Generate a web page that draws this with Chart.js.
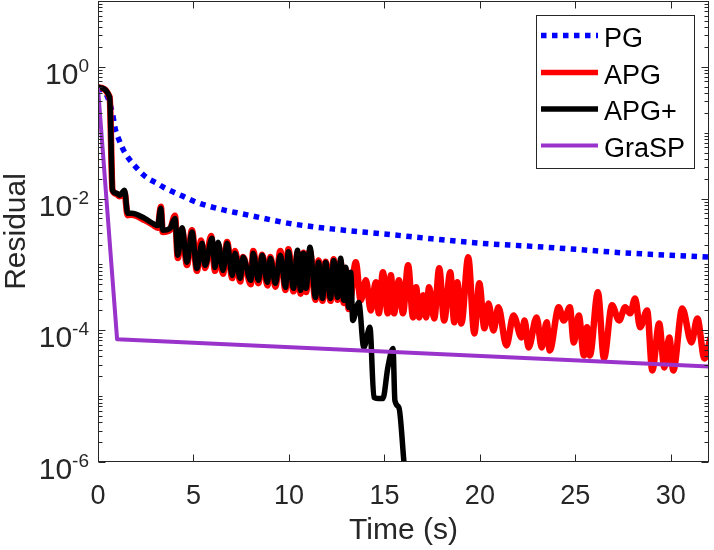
<!DOCTYPE html>
<html><head><meta charset="utf-8">
<script src="https://cdn.jsdelivr.net/npm/chart.js@4/dist/chart.umd.min.js"></script>
<style>html,body{margin:0;padding:0;background:#fff;}</style>
</head><body>
<canvas id="c" width="714" height="550"></canvas>
<script>
// ---- data ----
const seriesNames = ['PG', 'APG', 'APG+', 'GraSP'];

const pgTime = [0, 0.4, 0.75, 0.9, 1.1, 1.4, 1.8, 2.5, 3.1, 3.5, 4.5, 5.2, 6.5, 7.5, 8.7, 10, 12.5, 15, 17.5, 20, 22.5, 25, 27.5, 30, 32];
const pgResidual = [0.47, 0.40, 0.20, 0.115, 0.078, 0.050, 0.0347, 0.0214, 0.0170, 0.0145, 0.0107, 0.0087, 0.0068, 0.0059, 0.0050, 0.0042, 0.0034, 0.0029, 0.00245, 0.0021, 0.0019, 0.0017, 0.0015, 0.00138, 0.00129];

const apgTime = [0, 0.61, 0.76, 0.97, 1.13, 1.39, 1.55, 1.76, 2.45, 2.87, 3.13, 3.29, 3.39, 3.76, 4.03, 4.18, 4.40, 4.66, 4.92, 5.18,
  5.40, 5.61, 5.92, 6.13, 6.29, 6.55, 6.76, 7.03, 7.18, 7.45, 7.6, 8.0, 8.13, 8.4, 8.6, 8.87, 9.03, 9.29, 9.55, 9.82,
  9.97, 10.24, 10.45, 10.61, 10.76, 10.9, 11.1, 11.39, 11.55, 11.76, 11.92, 12.18, 12.34, 12.55, 12.71, 12.87, 12.97, 13.13, 13.24, 13.5,
  13.76, 14.03, 14.29, 14.55, 14.71, 14.92, 15.18, 15.34, 15.5, 15.76, 15.97, 16.24, 16.5, 16.66, 16.82, 17.03, 17.18, 17.34, 17.61, 17.87,
  18.13, 18.45, 18.66, 18.82, 19.03, 19.39, 19.71, 19.97, 20.24, 20.45, 20.71, 20.97, 21.39, 21.76, 22.18, 22.34, 22.55, 22.97, 23.24, 23.5,
  23.66, 24.13, 24.39, 24.71, 24.92, 25.18, 25.45, 25.61, 25.76, 26.18, 26.5, 26.92, 27.29, 27.61, 27.87, 28.13, 28.39, 28.76, 29.03, 29.39,
  29.66, 29.92, 30.13, 30.6, 31.08, 31.39, 31.76, 32.08];
const apgResidual = [0.49, 0.346, 0.0134, 0.0118, 0.0108, 0.0125, 0.0056, 0.0057, 0.0047, 0.0040, 0.0036, 0.0075, 0.0031, 0.0033, 0.0055, 0.00125, 0.0034, 0.00098, 0.0033, 0.00080,
  0.0023, 0.00088, 0.0027, 0.00080, 0.0020, 0.00072, 0.0022, 0.00062, 0.0016, 0.00055, 0.0013, 0.00050, 0.0016, 0.00052, 0.0014, 0.00048, 0.0013, 0.00046, 0.0016, 0.00041,
  0.0017, 0.00039, 0.0015, 0.00036, 0.0015, 0.00038, 0.0016, 0.00029, 0.00115, 0.00028, 0.0011, 0.00028, 0.0012, 0.00029, 0.0011, 0.00026, 0.00085, 0.00021, 0.00030, 0.00108,
  0.000285, 0.000573, 0.000200, 0.000534, 0.000181, 0.000759, 0.000181, 0.000683, 0.000181, 0.000573, 0.000181, 0.000969, 0.000157, 0.000449, 0.000157, 0.000339, 0.000157, 0.000449, 0.000151, 0.000873,
  0.000141, 0.000759, 0.000132, 0.000534, 0.000127, 0.00128, 0.0000897, 0.000516, 0.000107, 0.000256, 0.0000996, 0.000223, 0.0000589, 0.000168, 0.0000780, 0.000141, 0.0000549, 0.000157, 0.0000549, 0.000132,
  0.0000494, 0.000223, 0.000141, 0.000223, 0.0000655, 0.000168, 0.0000415, 0.000111, 0.0000415, 0.000377, 0.0000374, 0.000239, 0.000141, 0.000223, 0.000181, 0.000305, 0.000111, 0.000200, 0.0000246, 0.000127,
  0.0000273, 0.0000780, 0.0000246, 0.000215, 0.0000655, 0.000151, 0.0000374, 0.0000780];

const apgPlusTime = [0, 0.61, 0.76, 0.97, 1.13, 1.39, 1.55, 1.76, 2.45, 2.87, 3.13, 3.29, 3.39, 3.76, 4.03, 4.18, 4.40, 4.66, 4.92, 5.18,
  5.45, 5.61, 5.97, 6.13, 6.29, 6.55, 6.76, 7.03, 7.18, 7.45, 7.6, 8.0, 8.13, 8.4, 8.6, 8.87, 9.03, 9.29, 9.55, 9.82,
  9.97, 10.24, 10.45, 10.61, 10.76, 10.9, 11.1, 11.39, 11.55, 11.76, 11.92, 12.18, 12.34, 12.55, 12.71, 12.87, 12.97, 13.13, 13.24, 13.34,
  13.66, 13.92, 14.24, 14.45, 14.66, 14.92, 15.18, 15.45, 15.55, 15.76, 16.03, 16.2];
const apgPlusResidual = [0.49, 0.346, 0.0134, 0.0120, 0.0112, 0.0134, 0.0060, 0.0060, 0.0050, 0.0042, 0.0039, 0.0071, 0.0033, 0.0035, 0.0050, 0.00138, 0.0036, 0.00108, 0.0031, 0.00087,
  0.0021, 0.00097, 0.00249, 0.00090, 0.00217, 0.00081, 0.00209, 0.00068, 0.00148, 0.000615, 0.00128, 0.000573, 0.00148, 0.000573, 0.00138, 0.000534, 0.00124, 0.000516, 0.00138, 0.000449,
  0.00156, 0.000433, 0.00164, 0.000404, 0.00148, 0.000433, 0.00182, 0.000316, 0.00108, 0.000305, 0.00108, 0.000305, 0.00115, 0.000316, 0.00124, 0.000285, 0.000904, 0.000223, 0.000759, 0.000141,
  0.000265, 0.0000549, 0.000111, 0.00000955, 0.0000092, 0.0000092, 0.0000273, 0.0000531, 0.0000086, 0.0000067, 0.00000095, 0.0000003];

const graspTime = [0, 1, 32];
const graspResidual = [0.48, 0.0000730, 0.0000283];

const xTickValues = [0, 5, 10, 15, 20, 25, 30];
const xTickLabels = ['0', '5', '10', '15', '20', '25', '30'];
const yTickValues = [1e-6, 1e-4, 1e-2, 1];
const yTickExponents = ['-6', '-4', '-2', '0'];
const xTitle = 'Time (s)';
const yTitle = 'Residual';

// ---- chart ----
const FONT = '"Liberation Sans", Arial, Helvetica, sans-serif';
const AXC = '#262626';
const pts = (t, v) => t.map((x, i) => ({ x: x, y: v[i] }));

const matlabAxes = {
  id: 'matlabAxes',
  afterDraw(chart) {
    const { ctx, chartArea: a, scales } = chart;
    const xs = scales.x, ys = scales.y;
    const L = Math.round(a.left) + 0.5, R = Math.round(a.right) - 0.5;
    const T = Math.round(a.top) + 0.5, B = Math.round(a.bottom) - 0.5;
    ctx.save();
    ctx.strokeStyle = AXC; ctx.lineWidth = 1; ctx.setLineDash([]);
    ctx.strokeRect(L, T, R - L, B - T);
    ctx.beginPath();
    xTickValues.forEach(v => {
      const px = Math.round(xs.getPixelForValue(v)) + 0.5;
      ctx.moveTo(px, B); ctx.lineTo(px, B - 7);
      ctx.moveTo(px, T); ctx.lineTo(px, T + 7);
    });
    for (let e = -6; e <= 0; e++) {
      for (let m = 1; m <= 9; m++) {
        const v = m * Math.pow(10, e);
        const py = Math.round(ys.getPixelForValue(v)) + 0.5;
        const major = (m === 1 && e % 2 === 0);
        const len = major ? 7 : 4;
        ctx.moveTo(L, py); ctx.lineTo(L + len, py);
        ctx.moveTo(R, py); ctx.lineTo(R - len, py);
      }
    }
    ctx.stroke();

    ctx.fillStyle = AXC;
    ctx.textBaseline = 'alphabetic';
    ctx.font = '27px ' + FONT; ctx.textAlign = 'center';
    xTickValues.forEach((v, i) => ctx.fillText(xTickLabels[i], xs.getPixelForValue(v), 504));

    yTickValues.forEach((v, i) => {
      const py = ys.getPixelForValue(v);
      const rx = 89;
      ctx.font = '19px ' + FONT;
      const ew = ctx.measureText(yTickExponents[i]).width;
      ctx.textAlign = 'left';
      ctx.fillText(yTickExponents[i], rx - ew, py + 5);
      ctx.font = '30px ' + FONT; ctx.textAlign = 'right';
      ctx.fillText('10', rx - ew, py + 17);
    });

    ctx.font = '30px ' + FONT; ctx.textAlign = 'center';
    ctx.fillText(xTitle, (a.left + a.right) / 2, 539);
    ctx.save();
    ctx.translate(25, (a.top + a.bottom) / 2);
    ctx.rotate(-Math.PI / 2);
    ctx.fillText(yTitle, 0, 0);
    ctx.restore();

    // legend
    const bx = 536.5, by = 15.5, bw = 158, bh = 153;
    ctx.fillStyle = '#ffffff';
    ctx.fillRect(bx, by, bw, bh);
    ctx.strokeStyle = AXC; ctx.lineWidth = 1;
    ctx.strokeRect(bx, by, bw, bh);
    const rows = [35.5, 72.5, 109, 145.5];
    chart.data.datasets.forEach((ds, i) => {
      const cy = rows[i];
      ctx.save();
      ctx.strokeStyle = ds.borderColor;
      ctx.lineWidth = Math.min(ds.borderWidth, 5.5);
      ctx.lineCap = 'butt';
      ctx.setLineDash(ds.borderDash || []);
      ctx.beginPath(); ctx.moveTo(541, cy); ctx.lineTo(598, cy); ctx.stroke();
      ctx.restore();
      ctx.fillStyle = '#000000';
      ctx.font = '27px ' + FONT; ctx.textAlign = 'left';
      ctx.fillText(ds.label, 604, cy + 11);
    });
    ctx.restore();
  }
};

new Chart(document.getElementById('c'), {
  type: 'line',
  data: {
    datasets: [
      { label: seriesNames[0], data: pts(pgTime, pgResidual), borderColor: '#0000ff', borderWidth: 5.5, borderDash: [5.5, 5.5], cubicInterpolationMode: 'monotone', order: 4 },
      { label: seriesNames[1], data: pts(apgTime, apgResidual), borderColor: '#ff0000', borderWidth: 6.5, cubicInterpolationMode: 'monotone', order: 3 },
      { label: seriesNames[2], data: pts(apgPlusTime, apgPlusResidual), borderColor: '#000000', borderWidth: 5.5, cubicInterpolationMode: 'monotone', order: 2 },
      { label: seriesNames[3], data: pts(graspTime, graspResidual), borderColor: 'rgb(153,51,204)', borderWidth: 4, order: 1 }
    ]
  },
  options: {
    responsive: false,
    animation: false,
    devicePixelRatio: 1,
    layout: { padding: { left: 0, right: 5, top: 1, bottom: 0 } },
    elements: { point: { radius: 0, hoverRadius: 0 }, line: { borderJoinStyle: 'round', borderCapStyle: 'butt', fill: false } },
    datasets: { line: { clip: 0 } },
    plugins: { legend: { display: false }, tooltip: { enabled: false } },
    scales: {
      x: {
        type: 'linear', min: 0, max: 32,
        ticks: { display: false }, grid: { display: false }, border: { display: false },
        afterFit: s => { s.height = 88; }
      },
      y: {
        type: 'logarithmic', min: 1e-6, max: 10,
        ticks: { display: false }, grid: { display: false }, border: { display: false },
        afterFit: s => { s.width = 98; }
      }
    }
  },
  plugins: [matlabAxes]
});
</script>
</body></html>
